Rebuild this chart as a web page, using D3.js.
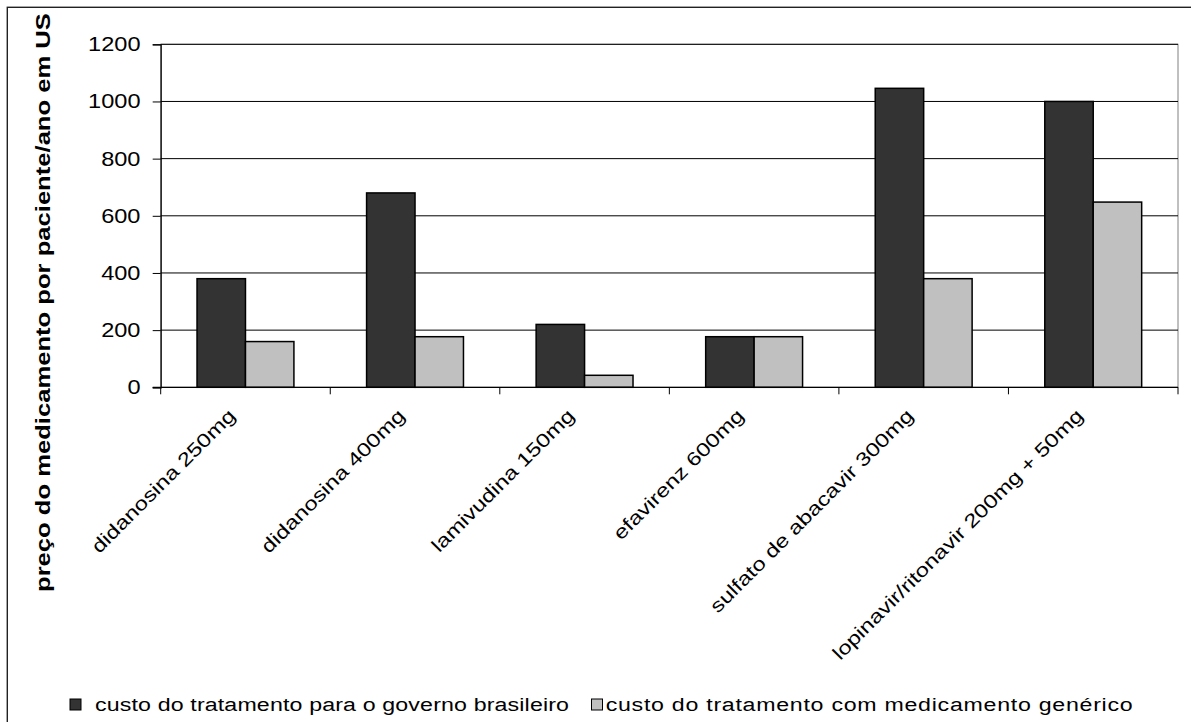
<!DOCTYPE html>
<html>
<head>
<meta charset="utf-8">
<script src="https://cdn.jsdelivr.net/npm/d3@7"></script>
<style>
  html, body { margin: 0; padding: 0; background: #fff; }
  svg { display: block; }
  text { font-family: "Liberation Sans", Arial, sans-serif; fill: #000; }
</style>
</head>
<body>
<svg id="chart" width="1191" height="722"></svg>
<script>
// Drug presentations on the category axis
const categories = [
  "didanosina 250mg",
  "didanosina 400mg",
  "lamivudina 150mg",
  "efavirenz 600mg",
  "sulfato de abacavir 300mg",
  "lopinavir/ritonavir 200mg + 50mg"
];
// Yearly cost per patient (US$)
const governmentCost = [380, 680, 220, 177, 1046, 1000];
const genericCost    = [160, 177, 42, 177, 380, 648];
const seriesNames = [
  "custo do tratamento para o governo brasileiro",
  "custo do tratamento com medicamento genérico"
];
const yTicks = [0, 200, 400, 600, 800, 1000, 1200];
const yLabel = "preço do medicamento por paciente/ano em US";

const svg = d3.select("#chart");
const plot = { left: 160.7, right: 1178, top: 44.3, bottom: 387.3 };
const fills = ["#333333", "#c0c0c0"];

// outer chart frame (its right and bottom edges fall outside the page)
svg.append("rect")
  .attr("x", 7.3).attr("y", 7.3)
  .attr("width", 1400).attr("height", 900)
  .attr("fill", "#fff").attr("stroke", "#222").attr("stroke-width", 1.4);

const y = d3.scaleLinear().domain([0, 1200]).range([plot.bottom, plot.top]);
const x = d3.scaleBand().domain(categories)
  .range([plot.left, plot.right])
  .paddingInner(1.5 / 3.5).paddingOuter(0.75 / 3.5);
const xs = d3.scaleBand().domain([0, 1]).range([0, x.bandwidth()]);

// plot area border
svg.append("rect")
  .attr("x", plot.left).attr("y", plot.top)
  .attr("width", plot.right - plot.left).attr("height", plot.bottom - plot.top)
  .attr("fill", "none").attr("stroke", "#808080").attr("stroke-width", 1);

// horizontal gridlines
svg.append("g").selectAll("line")
  .data(yTicks.filter(d => d > 0))
  .join("line")
  .attr("x1", plot.left).attr("x2", plot.right)
  .attr("y1", d => y(d)).attr("y2", d => y(d))
  .attr("stroke", "#000").attr("stroke-width", 1);

// y axis: line and tick marks from d3, labels drawn with wide glyphs
const yAxis = svg.append("g").attr("transform", `translate(${plot.left},0)`)
  .call(d3.axisLeft(y).tickValues(yTicks).tickSize(8).tickFormat(""));
yAxis.select(".domain").attr("stroke", "#000").attr("stroke-width", 1.2);
yAxis.selectAll(".tick line").attr("stroke", "#000").attr("stroke-width", 1);
svg.append("g").selectAll("text")
  .data(yTicks)
  .join("text")
  .attr("transform", d => `translate(140.5,${y(d)}) scale(1.21,1)`)
  .attr("text-anchor", "end")
  .attr("dy", "0.36em")
  .attr("font-size", 19.5)
  .text(d3.format("d"));

// bars
const groups = svg.append("g").selectAll("g")
  .data(categories)
  .join("g")
  .attr("transform", d => `translate(${x(d)},0)`);
groups.selectAll("rect")
  .data((d, i) => [governmentCost[i], genericCost[i]])
  .join("rect")
  .attr("x", (v, j) => xs(j))
  .attr("width", xs.bandwidth())
  .attr("y", v => y(v))
  .attr("height", v => y(0) - y(v))
  .attr("fill", (v, j) => fills[j])
  .attr("stroke", "#000").attr("stroke-width", 1.5);

// x axis line and category boundary ticks
const step = x.step();
svg.append("line")
  .attr("x1", plot.left - 8).attr("x2", plot.right)
  .attr("y1", plot.bottom).attr("y2", plot.bottom)
  .attr("stroke", "#000").attr("stroke-width", 1.2);
svg.append("g").selectAll("line")
  .data(d3.range(categories.length + 1))
  .join("line")
  .attr("x1", i => plot.left + i * step).attr("x2", i => plot.left + i * step)
  .attr("y1", plot.bottom).attr("y2", plot.bottom + 7)
  .attr("stroke", "#000").attr("stroke-width", 1);

// rotated category labels
svg.append("g").selectAll("text")
  .data(categories)
  .join("text")
  .attr("transform", d => `translate(${x(d) + x.bandwidth() / 2 - 9},${417}) rotate(-45) scale(1.25,1)`)
  .attr("text-anchor", "end")
  .attr("font-size", 19)
  .text(d => d);

// y axis title
svg.append("text")
  .attr("transform", `translate(50,592) rotate(-90) scale(1.28,1)`)
  .attr("font-size", 20).attr("font-weight", "bold")
  .text(yLabel);

// legend
const legendItems = [
  { sx: 70, tx: 95, len: 474 },
  { sx: 591.5, tx: 605.7, len: 527 }
];
const legendStretch = 1.22;
const legend = svg.append("g");
legendItems.forEach((it, i) => {
  legend.append("rect")
    .attr("x", it.sx).attr("y", 699).attr("width", 11).attr("height", 11)
    .attr("fill", fills[i]).attr("stroke", "#000").attr("stroke-width", 1);
  legend.append("text")
    .attr("transform", `translate(${it.tx},710.7) scale(${legendStretch},1)`)
    .attr("font-size", 19)
    .attr("textLength", it.len / legendStretch)
    .attr("lengthAdjust", "spacing")
    .text(seriesNames[i]);
});
</script>
</body>
</html>
